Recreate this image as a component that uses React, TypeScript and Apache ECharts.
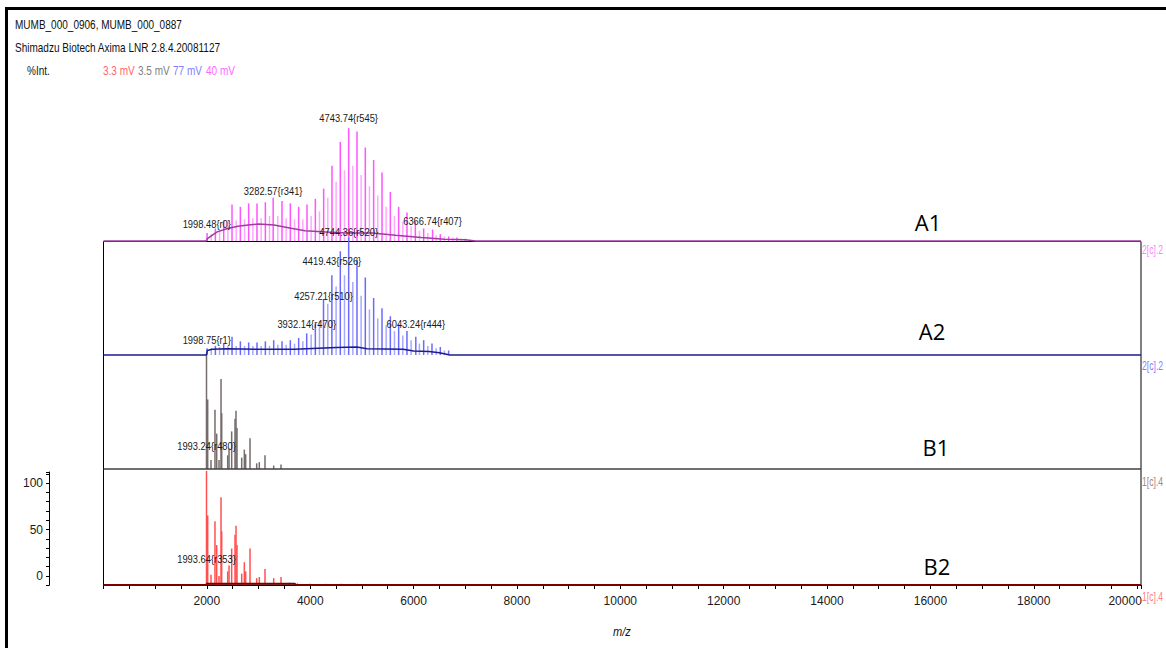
import React, { useEffect, useRef } from 'react';
import * as echarts from 'echarts';

// ---------- texts ----------
const headerLines = ['MUMB_000_0906, MUMB_000_0887', 'Shimadzu Biotech Axima LNR 2.8.4.20081127'];
const yAxisName = '%Int.';
const channelVoltages = ['3.3 mV', '3.5 mV', '77 mV', '40 mV'];
const panelNames = ['A1', 'A2', 'B1', 'B2'];
const channelTags = ['2[c].2', '2[c].2', '1[c].4', '1[c].4'];
const xTickLabels = [2000, 4000, 6000, 8000, 10000, 12000, 14000, 16000, 18000, 20000];
const yTickLabels = [0, 50, 100];
const xAxisName = 'm/z';

// ---------- A1 spectrum: [m/z, %Int] ----------
const a1Peaks = [
  [2004, 7], [2165, 11], [2326, 18], [2487, 32], [2648, 30], [2809, 33], [2970, 33], [3132, 34],
  [3283, 38], [3454, 35], [3615, 33], [3776, 30], [3938, 32], [4099, 37], [4260, 46], [4421, 66],
  [4582, 87], [4744, 99], [4905, 96], [5066, 82], [5227, 71], [5389, 60], [5550, 43], [5711, 30],
  [5872, 25], [6034, 17], [6195, 11], [6367, 10], [6517, 6], [6678, 4], [6840, 3], [7001, 2],
];
const a1MinorPeaks = [
  [2085, 6], [2246, 10], [2407, 18], [2568, 18], [2729, 19], [2890, 20], [3051, 20], [3212, 22],
  [3373, 22], [3535, 20], [3696, 19], [3857, 19], [4018, 22], [4179, 26], [4340, 38], [4501, 52],
  [4663, 62], [4824, 66], [4985, 58], [5146, 48], [5307, 40], [5469, 30], [5630, 22], [5791, 17],
  [5952, 13], [6113, 9], [6275, 7], [6436, 5], [6597, 4], [6758, 3], [6920, 2],
];
const a1Envelope = [
  [0, 0], [1990, 0], [2010, 2], [2100, 5], [2200, 8], [2400, 11], [2600, 13], [2800, 14], [3000, 15],
  [3300, 14], [3600, 11.5], [3900, 9], [4300, 8], [4700, 7], [5200, 7], [5650, 5], [6150, 3],
  [6600, 1.5], [7000, 1], [7200, 0], [20075, 0],
];
const a1Labels = [
  [1998.48, 15, '1998.48{r0}'], [3282.57, 44, '3282.57{r341}'],
  [4743.74, 107.6, '4743.74{r545}'], [6366.74, 17, '6366.74{r407}'],
];

// ---------- A2 spectrum ----------
const a2Peaks = [
  [2004, 6], [2165, 8], [2326, 10], [2487, 16], [2648, 12], [2809, 11], [2970, 11], [3132, 12],
  [3293, 13], [3454, 12], [3615, 13], [3776, 15], [3932, 19], [4099, 27], [4257, 49], [4419, 70],
  [4582, 91], [4744, 103], [4905, 84], [5066, 68], [5227, 50], [5389, 41], [5550, 34], [5711, 27],
  [5872, 21], [6043, 16], [6195, 13], [6356, 10], [6517, 7], [6678, 4],
];
const a2MinorPeaks = [
  [2085, 6], [2246, 7], [2407, 8], [2568, 8], [2729, 8], [2890, 8], [3051, 8], [3212, 8],
  [3373, 9], [3535, 9], [3696, 10], [3857, 12], [4018, 18], [4179, 30], [4340, 45], [4501, 60],
  [4663, 70], [4824, 64], [4985, 52], [5146, 40], [5307, 32], [5469, 26], [5630, 21], [5791, 17],
  [5952, 13], [6113, 10], [6275, 8], [6436, 6], [6597, 4],
];
const a2Envelope = [
  [0, 0], [1990, 0], [2010, 4], [2100, 5], [2400, 5.5], [3000, 5], [3700, 5], [4500, 6.5],
  [4900, 7], [5100, 5.5], [5800, 5], [6000, 3.5], [6300, 3], [6500, 2], [6700, 0], [20075, 0],
];
const a2Labels = [
  [1998.75, 13, '1998.75{r1}'], [3932.14, 26.6, '3932.14{r470}'], [4257.21, 51.5, '4257.21{r510}'],
  [4419.43, 82, '4419.43{r526}'], [4744.36, 108, '4744.36{r520}'], [6043.24, 26.6, '6043.24{r444}'],
];

// ---------- B1 spectrum ----------
const b1Peaks = [
  [1993, 100], [2016, 61], [2080, 8], [2157, 52], [2190, 31], [2235, 8], [2274, 79], [2287, 49],
  [2403, 12], [2429, 18], [2480, 33], [2545, 44], [2564, 51], [2583, 36], [2674, 10], [2725, 17],
  [2751, 13], [2835, 27], [2964, 5], [3015, 6], [3125, 12], [3293, 3], [3435, 4],
];
const b1Envelope = [[0, 0], [20075, 0]];
const b1Labels = [[1993.24, 19.6, '1993.24{r480}']];

// ---------- B2 spectrum ----------
const b2Peaks = [
  [1993, 100], [2016, 61], [2080, 9], [2157, 56], [2190, 35], [2235, 8], [2274, 77], [2287, 47],
  [2403, 12], [2429, 17], [2480, 32], [2545, 44], [2564, 52], [2583, 35], [2674, 10], [2725, 20],
  [2751, 12], [2835, 32], [2964, 6], [3015, 7], [3125, 14], [3293, 6], [3435, 7], [3600, 2],
  [3750, 1.5], [4000, 1], [4300, 1], [4600, 1], [4900, 1],
];
const b2Envelope = [[0, 0], [1990, 0], [2000, 1.2], [3700, 1.2], [3720, 0], [20075, 0]];
const b2Labels = [[1993.64, 22.5, '1993.64{r353}']];

const SANS = '"Liberation Sans", Arial, sans-serif';

const panels = [
  { peaks: a1Peaks, minor: a1MinorPeaks, env: a1Envelope, labels: a1Labels, top: 127, peak: '#ff55ff', light: '#ffa8ff', line: '#a03ca0' },
  { peaks: a2Peaks, minor: a2MinorPeaks, env: a2Envelope, labels: a2Labels, top: 241, peak: '#6a6aff', light: '#a8a8ff', line: '#1c1c8c' },
  { peaks: b1Peaks, minor: [], env: b1Envelope, labels: b1Labels, top: 355, peak: '#776b6b', light: '#b0a8a8', line: '#404040' },
  { peaks: b2Peaks, minor: [], env: b2Envelope, labels: b2Labels, top: 471, peak: '#ff5050', light: '#ff9a9a', line: '#7a0000' },
];
const tagColors = ['#ff80ff', '#8080ff', '#a08888', '#ff8080'];
const voltColors = ['#ff6666', '#808080', '#8080ff', '#ff66ff'];
const voltX = [103, 138, 173, 206];
const tagY = [250, 366, 482, 597];
const nameCenters = [[928, 222], [932, 331], [936, 447], [937, 566]];

const narrowText = (x: number, y: number, text: string, fill: string, fontSize: number, scaleX: number, extra: any = {}) => ({
  type: 'text', x, y, scaleX,
  style: { text, fill, fontSize, fontFamily: SANS, verticalAlign: 'middle', align: 'left', ...extra },
});

export default function App() {
  const ref = useRef<HTMLDivElement>(null);
  useEffect(() => {
    if (!ref.current) return;
    const chart = echarts.init(ref.current, undefined, { renderer: 'svg' });

    const grids: any[] = panels.map((p) => ({ left: 103.5, width: 1037.5, top: p.top, height: 114 }));
    grids.push({ left: 49, top: 472, width: 10, height: 113.3 });

    const xAxes: any[] = panels.map((_, i) => {
      const base: any = { type: 'value', gridIndex: i, min: 0, max: 20075, show: i === 3 };
      if (i === 3) {
        Object.assign(base, {
          interval: 500,
          axisLine: { show: true, lineStyle: { color: '#000', width: 1 } },
          axisTick: { show: true, length: 4, lineStyle: { color: '#000' } },
          splitLine: { show: false },
          axisLabel: {
            margin: 10,
            fontSize: 12,
            fontFamily: SANS,
            color: '#1a1a1a',
            formatter: (v: number) =>
              v === xTickLabels[xTickLabels.length - 1]
                ? '{r|' + v + '}'
                : xTickLabels.includes(v) ? String(v) : '',
            rich: { r: { padding: [0, 24, 0, 0], fontSize: 12, fontFamily: SANS, color: '#1a1a1a' } },
          },
        });
      }
      return base;
    });
    xAxes.push({ type: 'value', gridIndex: 4, show: false, min: 0, max: 1 });

    const yAxes: any[] = panels.map((_, i) => ({ type: 'value', gridIndex: i, min: 0, max: 100, show: false }));
    yAxes.push({
      type: 'value', gridIndex: 4, min: -10, max: 112, interval: 10, position: 'left',
      axisLine: { show: true, lineStyle: { color: '#000' } },
      axisTick: { show: true, length: 3, lineStyle: { color: '#000' } },
      splitLine: { show: false },
      axisLabel: {
        margin: 6, fontSize: 12, fontFamily: SANS, color: '#1a1a1a',
        formatter: (v: number) => (yTickLabels.includes(v) ? String(v) : ''),
      },
    });

    const series: any[] = [];
    panels.forEach((p, i) => {
      const barData = [
        ...p.minor.map((d) => ({ value: d, itemStyle: { color: p.light } })),
        ...p.peaks.map((d) => ({ value: d, itemStyle: { color: p.peak } })),
      ];
      series.push({
        type: 'bar', xAxisIndex: i, yAxisIndex: i, data: barData, barWidth: 1.5,
        clip: false, silent: true, z: 2,
      });
      series.push({
        type: 'line', xAxisIndex: i, yAxisIndex: i, data: p.env, showSymbol: false,
        lineStyle: { color: p.line, width: i === 3 ? 2 : 1.5 }, clip: false, silent: true, z: 3,
      });
      const labels = p.labels;
      series.push({
        type: 'custom', xAxisIndex: i, yAxisIndex: i, clip: false, silent: true, z: 5,
        data: labels.map((l) => [l[0], l[1]]),
        encode: { x: 0, y: 1 },
        renderItem: (params: any, api: any) => {
          const pt = api.coord([api.value(0), api.value(1)]);
          return {
            type: 'text', x: pt[0], y: pt[1], scaleX: 0.85,
            style: {
              text: labels[params.dataIndex][2], fill: '#1a1a1a', fontSize: 11,
              fontFamily: SANS, align: 'center', verticalAlign: 'middle',
            },
          };
        },
      });
    });

    const graphic: any[] = [
      { type: 'rect', shape: { x: 5, y: 7, width: 1161, height: 3 }, style: { fill: '#000' } },
      { type: 'rect', shape: { x: 5, y: 7, width: 3, height: 641 }, style: { fill: '#000' } },
      {
        type: 'rect', z: 1, shape: { x: 103.5, y: 241.5, width: 1037.5, height: 343.5 },
        style: { fill: 'none', stroke: '#000', lineWidth: 1 },
      },
      narrowText(15, 23.5, headerLines[0], '#111', 13, 0.77),
      narrowText(15, 47, headerLines[1], '#111', 13, 0.77),
      narrowText(27, 69.5, yAxisName, '#111', 13, 0.77),
      ...channelVoltages.map((t, i) => narrowText(voltX[i], 69.5, t, voltColors[i], 13, 0.77)),
      ...channelTags.map((t, i) => narrowText(1142, tagY[i], t, tagColors[i], 12, 0.72)),
      ...panelNames.map((t, i) => ({
        type: 'text', x: nameCenters[i][0], y: nameCenters[i][1], z: 10,
        style: { text: t, fill: '#000', fontSize: 22, fontFamily: '"Open Sans", Lato, sans-serif', align: 'center', verticalAlign: 'middle' },
      })),
      narrowText(622, 632, xAxisName, '#111', 13, 0.85, { fontStyle: 'italic', align: 'center' }),
    ];

    chart.setOption({
      animation: false,
      backgroundColor: '#fff',
      grid: grids,
      xAxis: xAxes,
      yAxis: yAxes,
      series,
      graphic,
    });
    return () => chart.dispose();
  }, []);
  return <div ref={ref} style={{ position: 'absolute', left: 0, top: 0, width: 1166, height: 648 }} />;
}
